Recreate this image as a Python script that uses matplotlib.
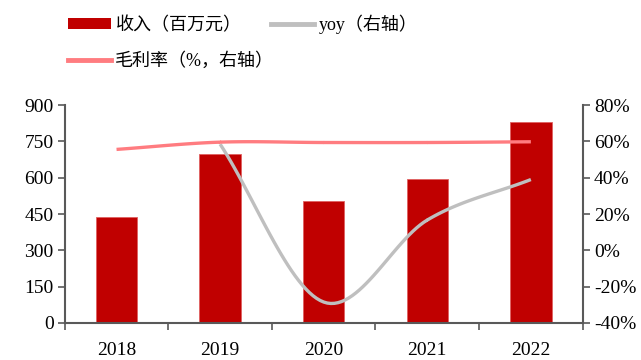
import numpy as np
import matplotlib
matplotlib.use("Agg")
import matplotlib.pyplot as plt
from matplotlib.patches import Patch
from matplotlib.lines import Line2D

plt.rcParams["font.family"] = ["Liberation Serif", "Noto Sans CJK SC"]

# data
years = ["2018", "2019", "2020", "2021", "2022"]
revenue = [438, 697, 504, 594, 830]          # 百万元
yoy = [None, 58.5, -28.5, 16.7, 39.0]        # %
gross_margin = [55.6, 59.6, 59.4, 59.4, 59.8]  # %

BAR_RED = "#C00000"
YOY_GRAY = "#BFBFBF"
GM_PINK = "#FF7C80"
AXIS_GRAY = "#595959"


def smooth(xs, ys, n=30):
    # Catmull-Rom style curve through the points, like Excel's smoothed line
    xs = np.asarray(xs, float)
    ys = np.asarray(ys, float)
    px = np.concatenate([[2 * xs[0] - xs[1]], xs, [2 * xs[-1] - xs[-2]]])
    py = np.concatenate([[2 * ys[0] - ys[1]], ys, [2 * ys[-1] - ys[-2]]])
    out_x, out_y = [], []
    t = np.linspace(0, 1, n)
    for i in range(1, len(px) - 2):
        for p, out in ((px, out_x), (py, out_y)):
            p0, p1, p2, p3 = p[i - 1], p[i], p[i + 1], p[i + 2]
            out.extend(0.5 * (2 * p1 + (-p0 + p2) * t
                              + (2 * p0 - 5 * p1 + 4 * p2 - p3) * t ** 2
                              + (-p0 + 3 * p1 - 3 * p2 + p3) * t ** 3))
    return out_x, out_y


fig = plt.figure(figsize=(6.41, 3.6), dpi=100)
ax = fig.add_axes([0.101, 0.103, 0.808, 0.605])
ax2 = ax.twinx()

x = np.arange(len(years))
ax.bar(x, revenue, width=0.4, color=BAR_RED, edgecolor="#E06060", linewidth=0.6, zorder=2)

yoy_x = [i for i, v in enumerate(yoy) if v is not None]
yoy_y = [v for v in yoy if v is not None]
sx, sy = smooth(yoy_x, yoy_y)
ax2.plot(sx, sy, color=YOY_GRAY, linewidth=2.4, solid_capstyle="butt", zorder=3)
gx, gy = smooth(x, gross_margin)
ax2.plot(gx, gy, color=GM_PINK, linewidth=2.4, solid_capstyle="butt", zorder=4)

ax.set_xlim(-0.5, 4.5)
ax.set_ylim(0, 900)
ax.set_yticks(np.arange(0, 901, 150))
ax2.set_ylim(-40, 80)
ax2.set_yticks(np.arange(-40, 81, 20))
ax2.set_yticklabels([f"{v}%" for v in range(-40, 81, 20)])

ax.set_xticks(np.arange(-0.5, 4.6, 1))
ax.set_xticklabels([])
ax.set_xticks(x, minor=True)
ax.set_xticklabels(years, minor=True)
ax.tick_params(axis="x", which="minor", length=0, pad=14, labelsize=14)
ax.tick_params(axis="x", which="major", length=5, width=1.2, color=AXIS_GRAY)
ax.tick_params(axis="y", length=5, width=1.2, color=AXIS_GRAY, labelsize=14, pad=3)
ax2.tick_params(axis="y", length=5, width=1.2, color=AXIS_GRAY, labelsize=14, pad=3)

for a in (ax, ax2):
    a.spines["top"].set_visible(False)
    for side in ("left", "right", "bottom"):
        a.spines[side].set_color(AXIS_GRAY)
        a.spines[side].set_linewidth(1.5)
ax.spines["right"].set_visible(False)
ax2.spines["left"].set_visible(False)
ax2.spines["bottom"].set_visible(False)

handles = [
    Patch(facecolor=BAR_RED, edgecolor="none"),
    Line2D([], [], color=GM_PINK, linewidth=3.5),
    Line2D([], [], color=YOY_GRAY, linewidth=3.5),
]
labels = ["收入（百万元）", "毛利率（%，右轴）", "yoy（右轴）"]
fig.legend(handles, labels, loc="upper left", bbox_to_anchor=(0.08, 1.005),
           ncol=2, frameon=False, fontsize=13, handlelength=2.4,
           handletextpad=0.25, labelspacing=1.0, columnspacing=-0.2,
           handleheight=0.6)

fig.savefig("out.png", dpi=100)
